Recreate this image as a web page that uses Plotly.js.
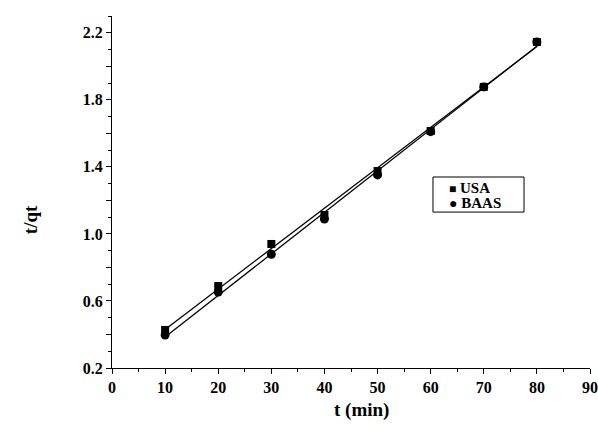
<!DOCTYPE html>
<html>
<head>
<meta charset="utf-8">
<script src="https://cdn.plot.ly/plotly-3.0.1.min.js"></script>
<style>html,body{margin:0;padding:0;background:#fff;}#chart{width:598px;height:432px;}</style>
</head>
<body>
<div id="chart"></div>
<script>
var tMin = [10, 20, 30, 40, 50, 60, 70, 80];
var usaVals = [0.427, 0.689, 0.940, 1.113, 1.375, 1.614, 1.877, 2.145];
var baasVals = [0.397, 0.653, 0.878, 1.089, 1.352, 1.610, 1.877, 2.145];
var fitX = [10, 80];
var usaFit = [0.430, 2.118];
var baasFit = [0.385, 2.120];
var seriesNames = ['USA', 'BAAS'];
var yTickVals = [0.2, 0.4, 0.6, 0.8, 1.0, 1.2, 1.4, 1.6, 1.8, 2.0, 2.2];
var yTickText = ['0.2', '', '0.6', '', '1.0', '', '1.4', '', '1.8', '', '2.2'];
var xTickVals = [0, 10, 20, 30, 40, 50, 60, 70, 80, 90];
var xTickText = ['0', '10', '20', '30', '40', '50', '60', '70', '80', '90'];
var xTitle = 't (min)';
var yTitle = 't/qt';

var fam = 'Liberation Serif, Times New Roman, serif';
var tickFont = {family: fam, size: 16, color: '#000'};
function bold(arr) { return arr.map(function (s) { return s ? '<b>' + s + '</b>' : ''; }); }

var traces = [
  {x: fitX, y: usaFit, mode: 'lines', line: {color: '#000', width: 1.3}, showlegend: false, hoverinfo: 'skip'},
  {x: fitX, y: baasFit, mode: 'lines', line: {color: '#000', width: 1.3}, showlegend: false, hoverinfo: 'skip'},
  {x: tMin, y: usaVals, mode: 'markers', name: seriesNames[0], showlegend: false, marker: {symbol: 'square', size: 8, color: '#000'}},
  {x: tMin, y: baasVals, mode: 'markers', name: seriesNames[1], showlegend: false, marker: {symbol: 'circle', size: 9, color: '#000'}}
];

var layout = {
  width: 598, height: 432,
  margin: {l: 112, r: 8, t: 16, b: 64},
  paper_bgcolor: '#fff', plot_bgcolor: '#fff',
  font: {family: fam, color: '#000'},
  showlegend: false,
  xaxis: {
    range: [0, 90], tickmode: 'array', tickvals: xTickVals, ticktext: bold(xTickText),
    showgrid: false, zeroline: false, showline: true, linecolor: '#000', linewidth: 1,
    ticks: 'outside', ticklen: 5, tickwidth: 1, tickcolor: '#000',
    minor: {dtick: 5, tick0: 0, ticks: 'outside', ticklen: 3, tickcolor: '#000', showgrid: false},
    tickfont: tickFont
  },
  yaxis: {
    range: [0.2, 2.3], tickmode: 'array', tickvals: yTickVals, ticktext: bold(yTickText),
    showgrid: false, zeroline: false, showline: true, linecolor: '#000', linewidth: 1,
    ticks: 'outside', ticklen: 5, tickwidth: 1, tickcolor: '#000',
    minor: {dtick: 0.1, tick0: 0.2, ticks: 'outside', ticklen: 3, tickcolor: '#000', showgrid: false},
    tickfont: tickFont
  },
  shapes: [
    {type: 'rect', xref: 'paper', yref: 'paper', x0: 0.6715, x1: 0.862, y0: 0.443, y1: 0.5426,
     line: {color: '#000', width: 1}, fillcolor: '#fff', layer: 'above'}
  ],
  annotations: [
    {xref: 'paper', yref: 'paper', x: 0.523, y: -0.119, xanchor: 'center', yanchor: 'middle', showarrow: false,
     text: '<b>' + xTitle + '</b>', font: {family: fam, size: 19, color: '#000'}},
    {xref: 'paper', yref: 'paper', x: -0.1715, y: 0.42, xanchor: 'center', yanchor: 'middle', showarrow: false,
     textangle: -90, text: '<b>' + yTitle + '</b>', font: {family: fam, size: 19, color: '#000'}},
    {xref: 'paper', yref: 'paper', x: 0.701, y: 0.511, xanchor: 'left', yanchor: 'middle', showarrow: false,
     text: '<b><span style="font-size:12px">■</span> ' + seriesNames[0] + '</b>', font: {family: fam, size: 15, color: '#000'}},
    {xref: 'paper', yref: 'paper', x: 0.701, y: 0.469, xanchor: 'left', yanchor: 'middle', showarrow: false,
     text: '<b><span style="font-size:14px">●</span> ' + seriesNames[1] + '</b>', font: {family: fam, size: 15, color: '#000'}}
  ]
};

Plotly.newPlot('chart', traces, layout, {displayModeBar: false, staticPlot: true});
</script>
</body>
</html>
